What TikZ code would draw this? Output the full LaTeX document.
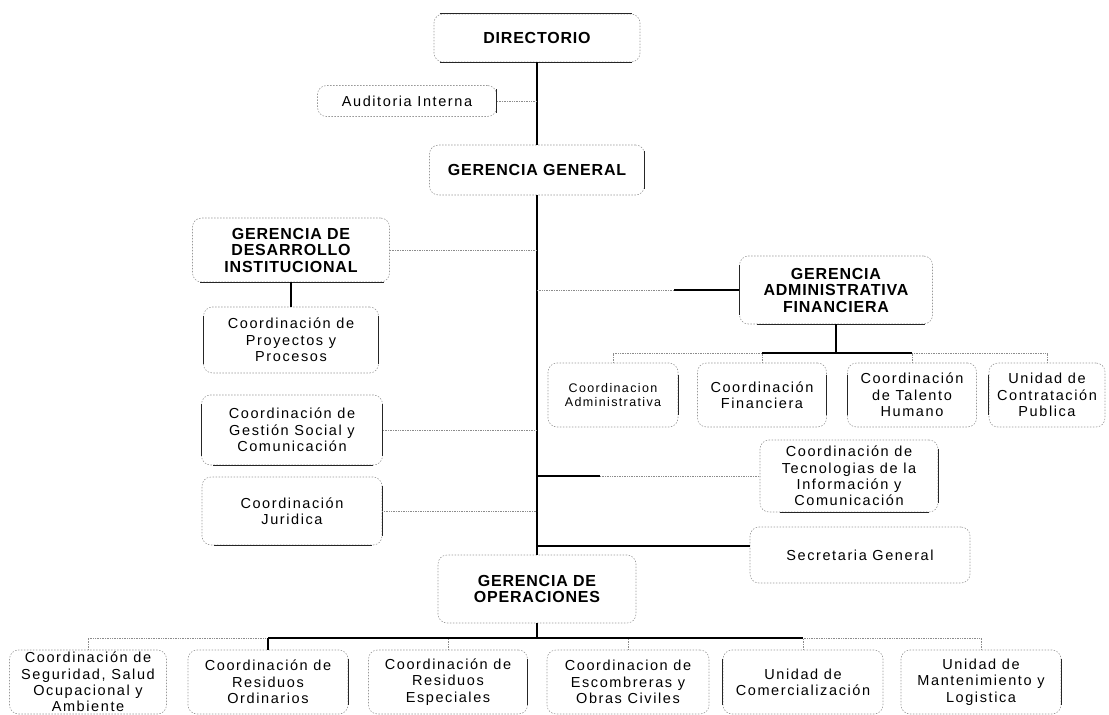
\documentclass[tikz,border=0pt]{standalone}
\usepackage{fontspec}
\setmainfont{Liberation Sans}
\newfontfamily\regfont[LetterSpace=11]{Liberation Sans}
\newfontfamily\bldfont[LetterSpace=5]{Liberation Sans Bold}
\tikzset{
  box/.style={draw=black!40, dash pattern=on 1.5pt off 1.5pt, line width=0.6pt,
    rounded corners=9pt, align=center, inner sep=0pt,
    font=\regfont\fontsize{14.5}{16.3}\selectfont},
  bbox/.style={box, font=\bldfont\fontsize{16}{16.5}\selectfont},
  sbox/.style={box, font=\regfont\fontsize{12.5}{14}\selectfont},
  solidc/.style={draw=black, line width=1.1pt},
  faintc/.style={draw=black!45, densely dotted, line width=0.7pt},
  edgeline/.style={draw=black!85, line width=0.8pt}
}
\begin{document}
\begin{tikzpicture}[x=1pt,y=-1pt]
\useasboundingbox (0,0) rectangle (1109,715);
% top
\node[bbox, minimum width=206, minimum height=48] (dir) at (537,38) {DIRECTORIO};
\node[box, minimum width=179, minimum height=31] (aud) at (407,101) {Auditoria Interna};
\node[bbox, minimum width=215, minimum height=50] (gg) at (537,170) {GERENCIA GENERAL};
% left column
\node[bbox, minimum width=197, minimum height=64] (gdi) at (291,250) {GERENCIA DE\\DESARROLLO\\INSTITUCIONAL};
\node[box, minimum width=175, minimum height=66] (proy) at (291,340) {Coordinación de\\Proyectos y\\Procesos};
\node[box, minimum width=181, minimum height=70] (gest) at (292,430) {Coordinación de\\Gestión Social y\\Comunicación};
\node[box, minimum width=180, minimum height=68] (jur) at (292,511) {Coordinación\\Juridica};
% right side
\node[bbox, minimum width=193, minimum height=68] (gaf) at (836,290) {GERENCIA\\ADMINISTRATIVA\\FINANCIERA};
\node[sbox, minimum width=130, minimum height=64] (adm) at (613,395) {Coordinacion\\Administrativa};
\node[box, minimum width=129, minimum height=64] (fin) at (762,395) {Coordinación\\Financiera};
\node[box, minimum width=129, minimum height=64] (tal) at (912,395) {Coordinación\\de Talento\\Humano};
\node[box, minimum width=116, minimum height=64] (uni) at (1047,395) {Unidad de\\Contratación\\Publica};
\node[box, minimum width=178, minimum height=72] (tec) at (849,476) {Coordinación de\\Tecnologias de la\\Información y\\Comunicación};
\node[box, minimum width=220, minimum height=56] (sec) at (860,555) {Secretaria General};
% operations
\node[bbox, minimum width=198, minimum height=68] (go) at (537,589) {GERENCIA DE\\OPERACIONES};
\node[box, minimum width=157, minimum height=64] (seg) at (88,682) {Coordinación de\\Seguridad, Salud\\Ocupacional y\\Ambiente};
\node[box, minimum width=160, minimum height=64] (ord) at (268,682) {Coordinación de\\Residuos\\Ordinarios};
\node[box, minimum width=159, minimum height=64] (esp) at (448,682) {Coordinación de\\Residuos\\Especiales};
\node[box, minimum width=162, minimum height=64] (esc) at (628,682) {Coordinacion de\\Escombreras y\\Obras Civiles};
\node[box, minimum width=160, minimum height=64] (com) at (803,682) {Unidad de\\Comercialización};
\node[box, minimum width=160, minimum height=64] (man) at (981,682) {Unidad de\\Mantenimiento y\\Logistica};
% solid box edges seen in the print
\draw[edgeline] ([xshift=6pt]dir.north west) -- ([xshift=-8pt]dir.north east);
\draw[edgeline] ([xshift=6pt]dir.south west) -- ([xshift=-8pt]dir.south east);
\draw[edgeline] ([yshift=-4pt]aud.north east) -- ([yshift=4pt]aud.south east);
\draw[edgeline] ([yshift=-6pt]gg.north east) -- ([yshift=6pt]gg.south east);
\draw[edgeline] ([xshift=8pt]gdi.south west) -- ([xshift=-6pt]gdi.south east);
\draw[edgeline] ([yshift=-9pt]proy.north west) -- ([yshift=9pt]proy.south west);
\draw[edgeline] ([yshift=-9pt]proy.north east) -- ([yshift=9pt]proy.south east);
\draw[edgeline] ([yshift=-9pt]gest.north west) -- ([yshift=9pt]gest.south west);
\draw[edgeline] ([yshift=-9pt]gest.north east) -- ([yshift=9pt]gest.south east);
\draw[edgeline] ([xshift=12pt]gest.south west) -- ([xshift=-10pt]gest.south east);
\draw[edgeline] ([yshift=-9pt]jur.north east) -- ([yshift=9pt]jur.south east);
\draw[edgeline] ([xshift=12pt]jur.south west) -- ([xshift=-10pt]jur.south east);
\draw[edgeline] ([yshift=-9pt]gaf.north west) -- ([yshift=9pt]gaf.south west);
\draw[edgeline] ([xshift=18pt]gaf.south west) -- ([xshift=-8pt]gaf.south east);
\draw[edgeline] ([yshift=-12pt]adm.north east) -- ([yshift=12pt]adm.south east);
\draw[edgeline] ([yshift=-12pt]fin.north east) -- ([yshift=12pt]fin.south east);
\draw[edgeline] ([yshift=-12pt]tal.north west) -- ([yshift=12pt]tal.south west);
\draw[edgeline] ([yshift=-12pt]uni.north west) -- ([yshift=12pt]uni.south west);
\draw[edgeline] ([yshift=-9pt]tec.north east) -- ([yshift=9pt]tec.south east);
\draw[edgeline] ([xshift=20pt]tec.south west) -- ([xshift=-9pt]tec.south east);
\draw[edgeline] ([yshift=-9pt]ord.north east) -- ([yshift=9pt]ord.south east);
\draw[edgeline] ([yshift=-9pt]esp.north east) -- ([yshift=9pt]esp.south east);
\draw[edgeline] ([yshift=-9pt]com.north west) -- ([yshift=9pt]com.south west);
\draw[edgeline] ([yshift=-9pt]man.north east) -- ([yshift=9pt]man.south east);
% coordinates
\coordinate (corner) at (537,546);
\coordinate (gbus) at (836,353);
\coordinate (obus) at (537,638);
% main spine
\draw[solidc] (dir) -- (gg);
\draw[faintc] (aud.east) -- (aud.east -| dir.south);
\draw[solidc] (gg.south) -- (corner) -- (corner -| sec.west);
\draw[solidc] (corner) -- (go.north);
% left branches
\draw[faintc] (gdi.east) -- (gdi.east -| corner);
\draw[solidc] (gdi.south) -- (proy.north);
\draw[faintc] (gest.east) -- (gest.east -| corner);
\draw[faintc] (jur.east) -- (jur.east -| corner);
% GAF
\draw[faintc] (gaf.west -| corner) -- (gaf.west);
\draw[solidc] (gaf.west) -- ++(-65,0);
\draw[solidc] (gaf.south) -- (gbus);
\draw[faintc] (adm.north |- gbus) -- (uni.north |- gbus);
\draw[solidc] (fin.north |- gbus) -- (tal.north |- gbus);
\foreach \n in {adm,fin,tal,uni} \draw[faintc] (\n.north) -- (\n.north |- gbus);
% tecnologias
\draw[faintc] (tec.west -| corner) -- (tec.west);
\draw[solidc] (tec.west -| corner) -- ++(63,0);
% operations bus
\draw[solidc] (go.south) -- (obus);
\draw[faintc] (seg.north |- obus) -- (man.north |- obus);
\draw[solidc] (ord.north |- obus) -- (com.north |- obus);
\foreach \n in {seg,esp,esc,com,man} \draw[faintc] (\n.north) -- (\n.north |- obus);
\draw[solidc] (ord.north) -- (ord.north |- obus);
\end{tikzpicture}
\end{document}
